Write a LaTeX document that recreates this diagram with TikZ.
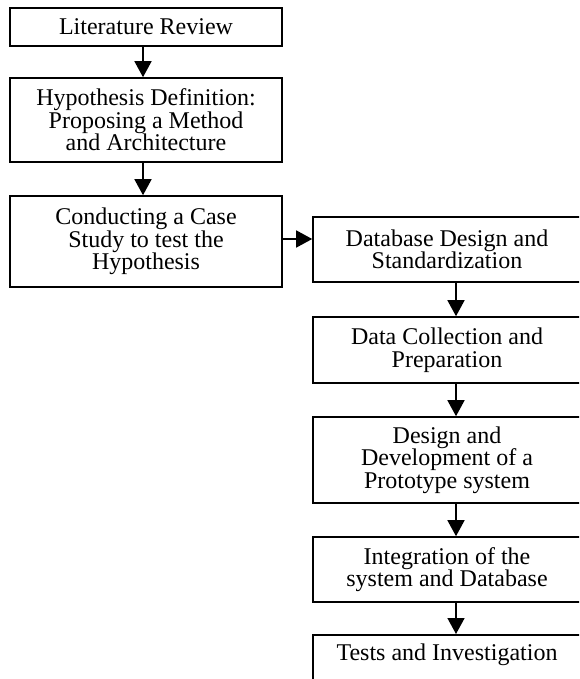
\documentclass[tikz,border=0pt]{standalone}
\usepackage{fontspec}
\setmainfont{Liberation Serif}
\usetikzlibrary{arrows.meta}
\begin{document}
\begin{tikzpicture}[x=1pt,y=1pt,
  box/.style={draw, line width=1.6pt, rectangle, align=center, inner sep=0pt,
    font=\fontsize{24}{22.5}\selectfont},
  lbox/.style={box, minimum width=272pt},
  rbox/.style={box, minimum width=268pt},
  txt/.style={inner sep=0pt, font=\fontsize{24}{22.5}\selectfont},
  arr/.style={line width=1.5pt, -{Triangle[width=17pt,length=16pt]}}]
\clip (0,0) rectangle (579,-679);
\fill[white] (0,0) rectangle (579,-679);
% left column
\node[lbox, minimum height=38pt] (a) at (146,-27) {Literature Review};
\node[lbox, minimum height=84pt] (b) at (146,-120) {Hypothesis Definition:\\Proposing a Method\\and Architecture};
\node[lbox, minimum height=91pt] (c) at (146,-241.5) {Conducting a Case\\Study to test the\\Hypothesis};
% right column
\node[rbox, minimum height=65pt] (d) at (447,-249.5) {Database Design and\\Standardization};
\node[rbox, minimum height=66pt] (e) at (447,-350) {Data Collection and\\Preparation};
\node[rbox, minimum height=86pt] (f) at (447,-460) {Design and\\Development of a\\Prototype system};
\node[rbox, minimum height=65pt] (g) at (447,-569.5) {Integration of the\\system and Database};
\node[rbox, minimum height=70pt, anchor=north] (h) at (447,-634) {};
\node[txt] (ht) at (447,-655) {Tests and Investigation};
% arrows
\draw[arr] (a.south -| 143,0) -- (b.north -| 143,0);
\draw[arr] (b.south -| 143,0) -- (c.north -| 143,0);
\draw[arr] (c.east |- 0,-239) -- (d.west |- 0,-239);
\draw[arr] (d.south -| 456,0) -- (e.north -| 456,0);
\draw[arr] (e.south -| 456,0) -- (f.north -| 456,0);
\draw[arr] (f.south -| 456,0) -- (g.north -| 456,0);
\draw[arr] (g.south -| 456,0) -- (h.north -| 456,0);
\end{tikzpicture}
\end{document}
